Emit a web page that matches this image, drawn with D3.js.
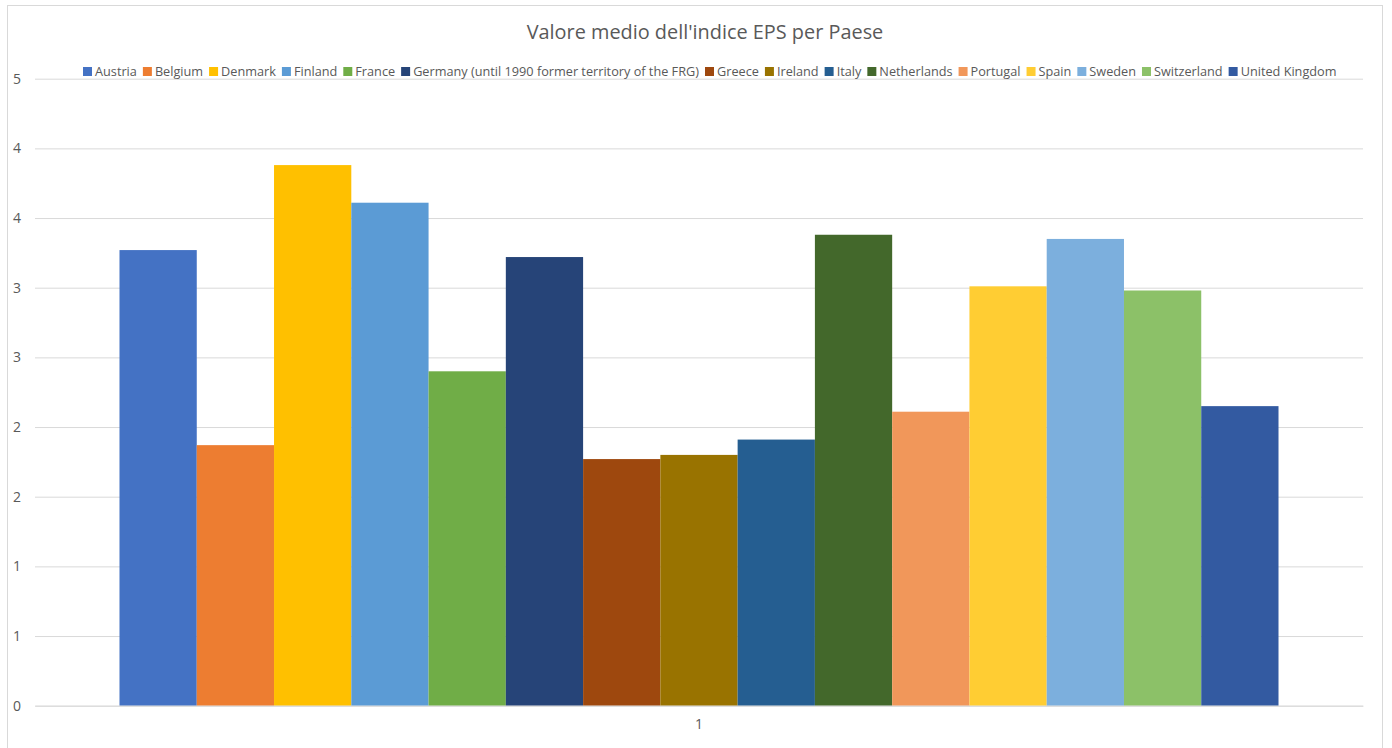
<!DOCTYPE html>
<html>
<head>
<meta charset="utf-8">
<script src="https://cdn.jsdelivr.net/npm/d3@7"></script>
<style>
  html, body { margin: 0; padding: 0; background: #ffffff; }
  svg { display: block; }
  text { font-family: "Open Sans", "Liberation Sans", sans-serif; fill: #595959; }
</style>
</head>
<body>
<svg id="chart" width="1392" height="748"></svg>
<script>
// ---- data ----
const title = "Valore medio dell'indice EPS per Paese";
const categories = ["1"];
const countries = ["Austria", "Belgium", "Denmark", "Finland", "France",
  "Germany (until 1990 former territory of the FRG)", "Greece", "Ireland", "Italy",
  "Netherlands", "Portugal", "Spain", "Sweden", "Switzerland", "United Kingdom"];
const values = [3.27, 1.87, 3.88, 3.61, 2.40, 3.22, 1.77, 1.80, 1.91, 3.38, 2.11, 3.01, 3.35, 2.98, 2.15];
const colors = ["#4472C4", "#ED7D31", "#FFC000", "#5B9BD5", "#70AD47", "#264478", "#9E480E",
  "#997300", "#255E91", "#43682B", "#F1975A", "#FFCD33", "#7CAFDD", "#8CC168", "#335AA1"];
const yTickValues = [0, 0.5, 1, 1.5, 2, 2.5, 3, 3.5, 4, 4.5];
const yTickLabels = ["0", "1", "1", "2", "2", "3", "3", "4", "4", "5"];

// ---- layout ----
const svg = d3.select("#chart");
const plot = { left: 35, right: 1363, top: 78.7, bottom: 705.7 };

// chart border
svg.append("rect")
  .attr("x", 7.5).attr("y", 5.5).attr("width", 1375).attr("height", 780)
  .attr("fill", "#fff").attr("stroke", "#d9d9d9").attr("stroke-width", 1);

const y = d3.scaleLinear().domain([0, 4.5]).range([plot.bottom, plot.top]);
const x0 = d3.scaleBand().domain(categories).range([plot.left, plot.right])
  .paddingInner(0).paddingOuter(0.0729);
const x1 = d3.scaleBand().domain(countries).range([0, x0.bandwidth()]).padding(0);

// y axis + gridlines
const yAxis = d3.axisLeft(y)
  .tickValues(yTickValues)
  .tickFormat((d, i) => yTickLabels[i])
  .tickSize(-(plot.right - plot.left))
  .tickPadding(14);
const gy = svg.append("g").attr("transform", `translate(${plot.left},0)`).call(yAxis);
gy.select(".domain").remove();
gy.selectAll(".tick line").attr("stroke", "#d9d9d9").attr("stroke-width", 1);
gy.selectAll(".tick text").attr("font-size", 14).style("fill", "#595959")
  .attr("text-anchor", "end");

// bars
const g = svg.append("g");
categories.forEach(cat => {
  g.selectAll("rect.bar")
    .data(countries.map((c, i) => ({ c, v: values[i], col: colors[i] })))
    .join("rect")
    .attr("class", "bar")
    .attr("x", d => x0(cat) + x1(d.c))
    .attr("width", x1.bandwidth())
    .attr("y", d => y(d.v))
    .attr("height", d => y(0) - y(d.v))
    .attr("fill", d => d.col);
});

// x axis
const xAxis = d3.axisBottom(x0).tickSize(0).tickPadding(13);
const gx = svg.append("g").attr("transform", `translate(0,${plot.bottom})`).call(xAxis);
gx.select(".domain").attr("stroke", "#d9d9d9");
gx.selectAll(".tick text").attr("font-size", 14).style("fill", "#595959");

// title (fit to target width)
const t = svg.append("text")
  .attr("x", 705).attr("y", 39)
  .attr("text-anchor", "middle")
  .attr("font-size", 20)
  .text(title);
{
  const w = t.node().getComputedTextLength();
  t.attr("font-size", 20 * 357 / w);
}

// legend
const legend = svg.append("g");
const legendFont = 13;
const items = legend.selectAll("g.item")
  .data(countries.map((c, i) => ({ c, col: colors[i] })))
  .join("g").attr("class", "item");
items.append("rect").attr("width", 9).attr("height", 9).attr("fill", d => d.col);
items.append("text").attr("x", 12).attr("y", 9).attr("font-size", legendFont).text(d => d.c);
function layoutLegend(fs) {
  items.select("text").attr("font-size", fs);
  let xpos = 0;
  const pos = [];
  items.each(function () {
    const tw = d3.select(this).select("text").node().getComputedTextLength();
    pos.push(xpos);
    xpos += 12 + tw + 6;
  });
  return { pos, total: xpos - 6 };
}
let L = layoutLegend(legendFont);
const targetW = 1332 - 83;
const fs2 = legendFont * targetW / L.total;
L = layoutLegend(fs2);
items.attr("transform", (d, i) => `translate(${83 + L.pos[i]},${67})`);
</script>
</body>
</html>
